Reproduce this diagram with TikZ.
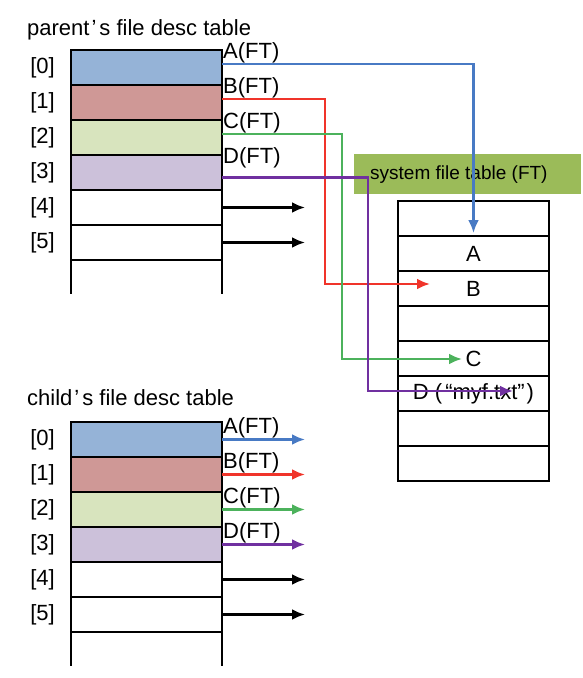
\documentclass[tikz,border=0pt]{standalone}
\usepackage{fontspec}
\setmainfont{Liberation Sans}
\usetikzlibrary{calc, arrows, arrows.meta, positioning}
\definecolor{cellA}{RGB}{149,179,215}
\definecolor{cellB}{RGB}{207,152,150}
\definecolor{cellC}{RGB}{216,228,190}
\definecolor{cellD}{RGB}{204,193,218}
\definecolor{lineA}{RGB}{72,122,196}
\definecolor{lineB}{RGB}{240,52,42}
\definecolor{lineC}{RGB}{76,178,92}
\definecolor{lineD}{RGB}{112,48,160}
\definecolor{ftHead}{RGB}{155,187,89}
\def\rowh{35}
\def\reach{83}
\tikzset{slot/.style={draw, line width=2.2pt, minimum width=151pt, minimum height=\rowh pt, inner sep=0pt, outer sep=0pt, anchor=north west}}
\tikzset{ptr/.style={line width=2.5pt, -{Latex[length=13pt, width=11pt]}}}
\tikzset{tag/.style={anchor=south west, inner sep=1pt}}
\tikzset{big/.style={font=\fontsize{22}{24}\selectfont}}

\begin{document}
\begin{tikzpicture}[x=1pt, y=-1pt, big]
  \useasboundingbox (0,0) rectangle (582,678);
  % titles
  \node[anchor=west, inner sep=0pt] (ptitle) at (27,30) {parent\kern2pt’\kern3pt s file desc table};
  \node[anchor=west, inner sep=0pt] (ctitle) at (27,398) {child\kern2pt’\kern3pt s file desc table};
  % the two fd tables
  \foreach \i/\c in {0/cellA, 1/cellB, 2/cellC, 3/cellD, 4/white, 5/white} {
    \node[slot, fill=\c] (p\i) at (71,{50+\rowh*\i}) {};
    \node[slot, fill=\c] (c\i) at (71,{422+\rowh*\i}) {};
    \node[left=16pt of p\i, inner sep=0pt] {[\i]};
    \node[left=16pt of c\i, inner sep=0pt] {[\i]};
  }
  \foreach \t in {p5, c5} {
    \draw[line width=2.2pt] (\t.south west) -- ++(0,34);
    \draw[line width=2.2pt] (\t.south east) -- ++(0,34);
  }
  % system file table
  \node[fill=ftHead, minimum width=227pt, minimum height=40pt, anchor=north west] (fthead) at (354,154) {};
  \node[anchor=west, inner sep=0pt, font=\fontsize{19}{21}\selectfont] (fttitle) at ([xshift=16pt]fthead.west) {system file table (FT)};
  \foreach \i/\txt in {0/, 1/A, 2/B, 3/, 4/C, 5/{D (\kern3pt“myf.txt”\kern2pt)}, 6/, 7/} {
    \node[slot] (ft\i) at (398,{201+\rowh*\i}) {\txt};
  }
  % free ends inside the FT cells
  \coordinate (tipB) at (430,284);
  \coordinate (tipC) at (462,359);
  \coordinate (tipD) at (513,391);
  % parent pointers
  \draw[ptr, lineA] ([yshift=3.5pt]p0.east) -| ([yshift=3pt]ft1.north);
  \draw[ptr, lineB] ([yshift=3.5pt]p1.east) -| ($(tipB)+(-105,0)$) -- (tipB);
  \draw[ptr, lineC] ([yshift=3.5pt]p2.east) -| ($(tipC)+(-120,0)$) -- (tipC);
  \draw[ptr, lineD] ([yshift=-5pt]p3.east) -| ($(tipD)+(-145,0)$) -- (tipD);
  \foreach \i/\l in {0/A, 1/B, 2/C, 3/D} {
    \node[tag] at ([yshift=3.5pt]p\i.east) {\l(FT)};
  }
  % child pointers
  \foreach \i/\l/\c in {0/A/lineA, 1/B/lineB, 2/C/lineC, 3/D/lineD} {
    \draw[ptr, \c] (c\i.east) -- ++(\reach,0) coordinate (cend\i);
    \node[tag] at (c\i.east) {\l(FT)};
  }
  % unused slots
  \foreach \t in {p4, p5, c4, c5} {
    \draw[ptr] (\t.east) -- ++(\reach,0) coordinate (\t end);
  }
\end{tikzpicture}
\end{document}
